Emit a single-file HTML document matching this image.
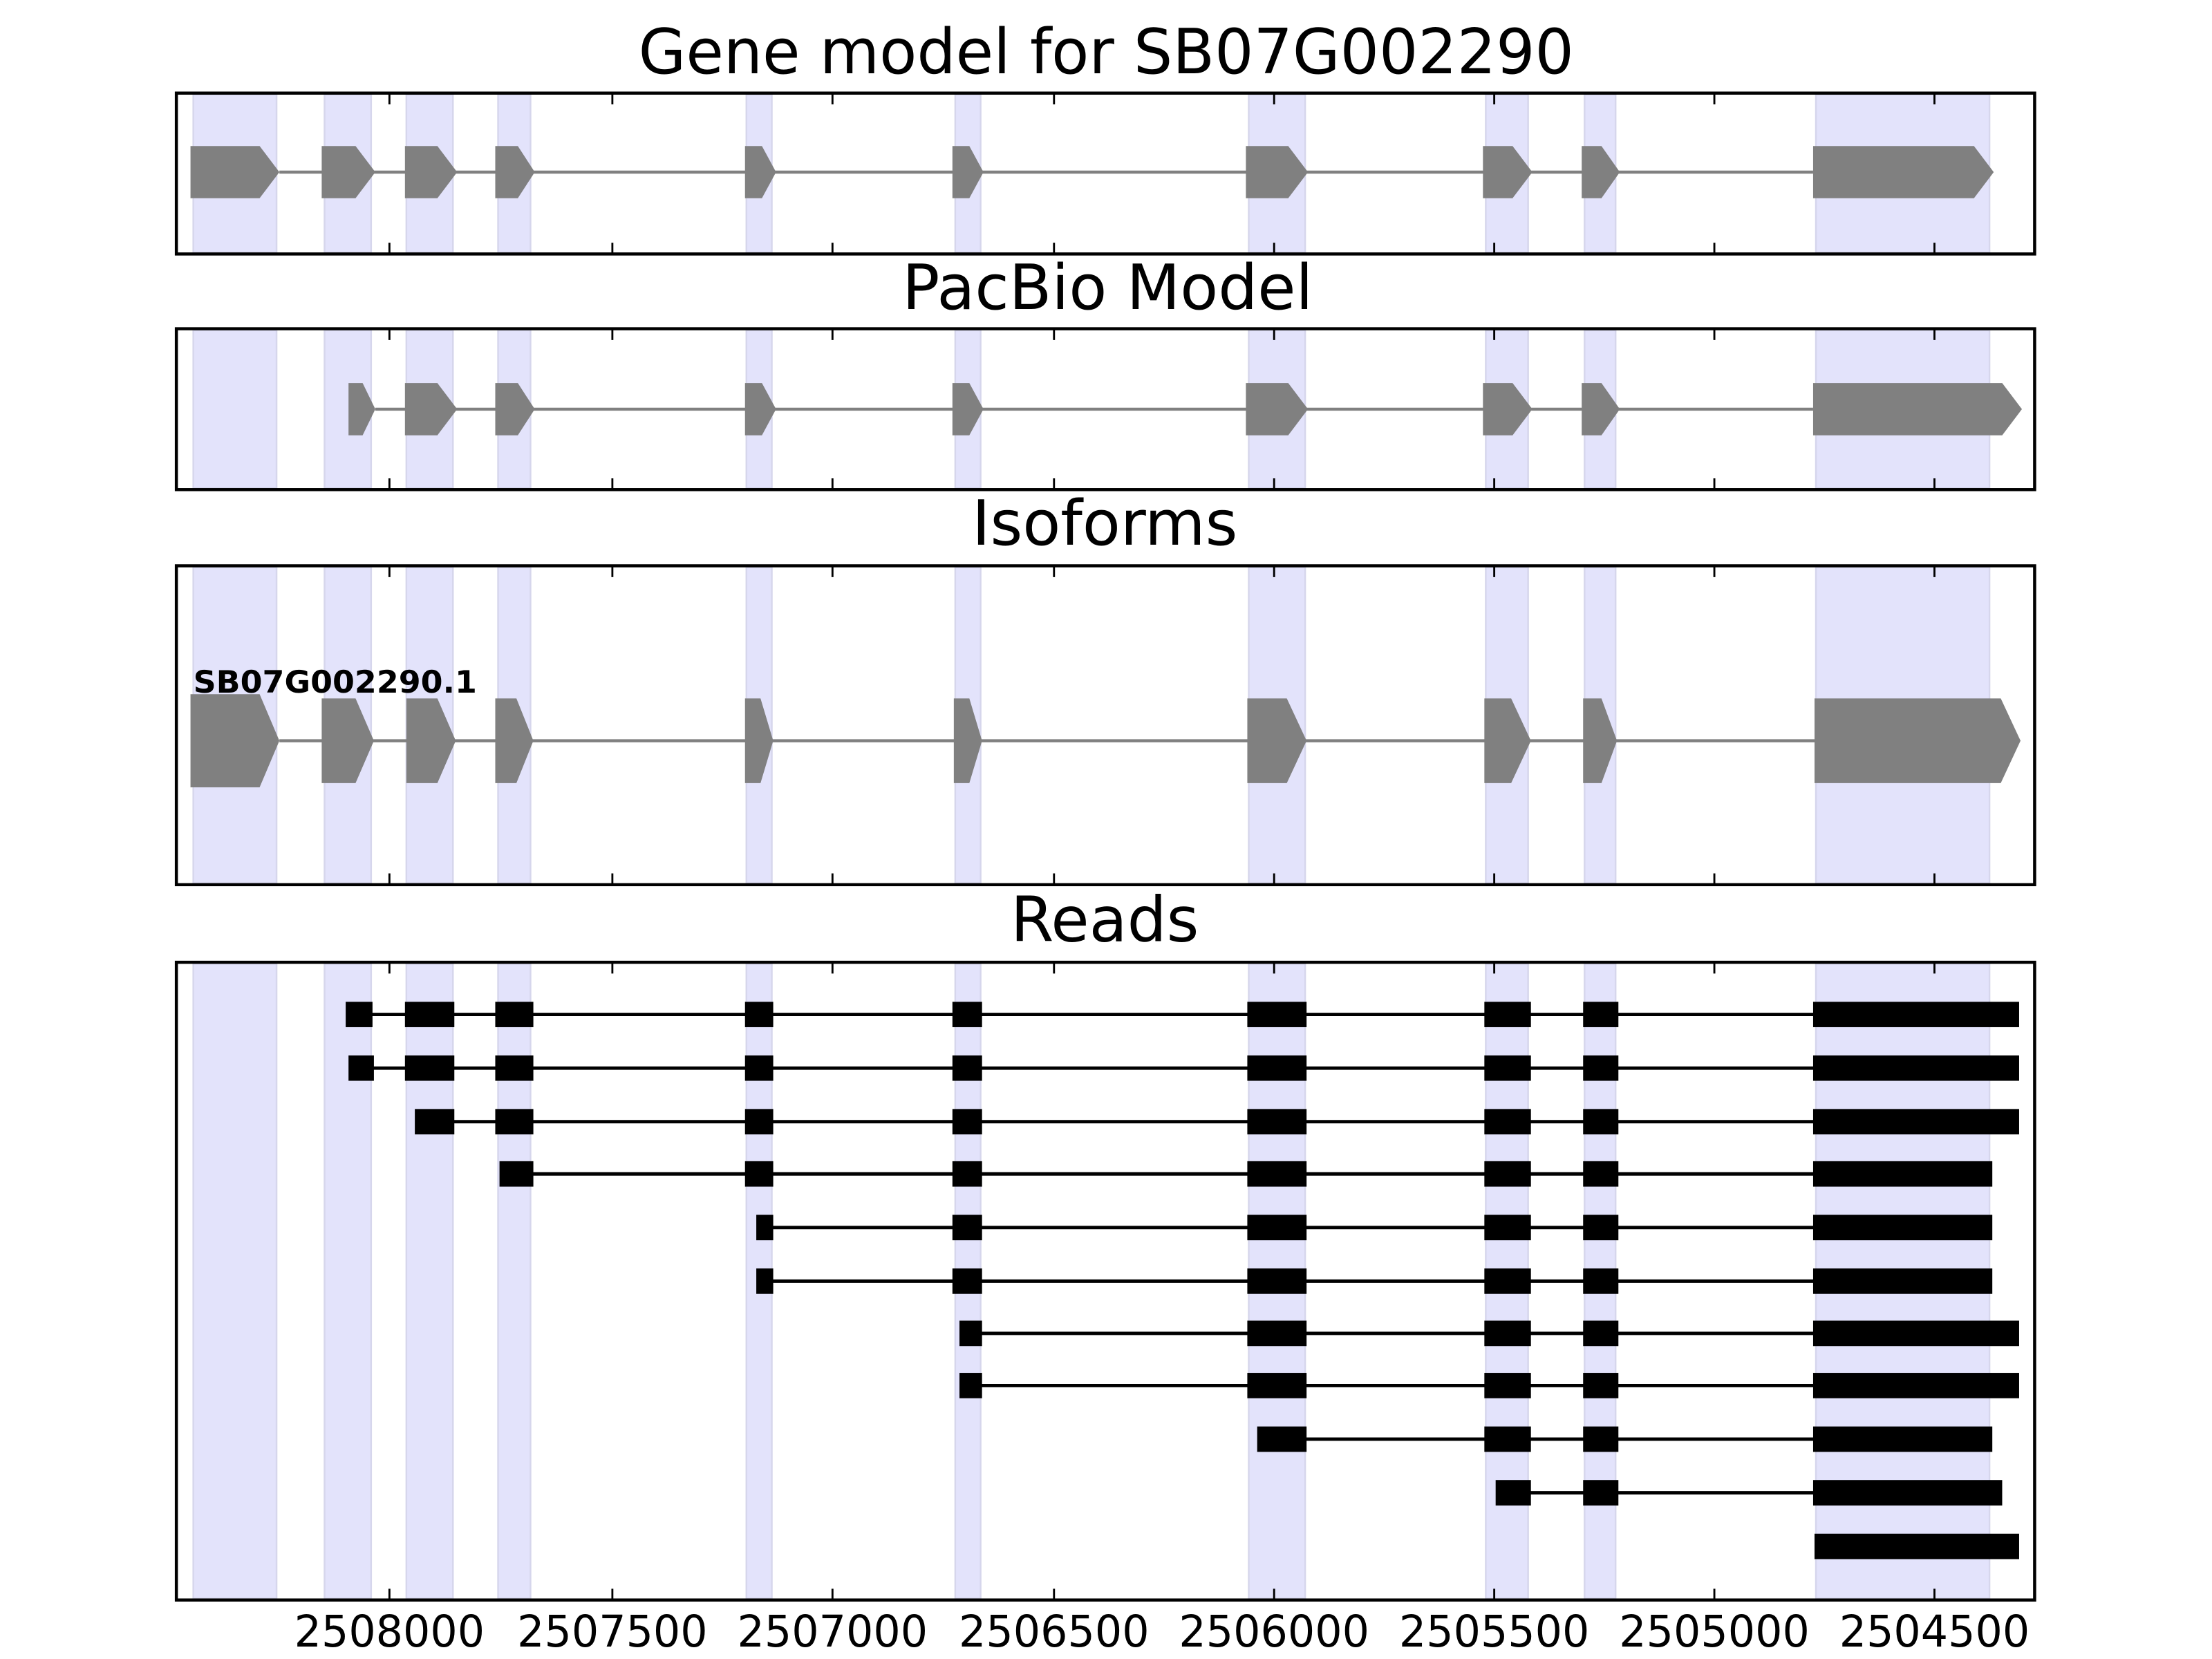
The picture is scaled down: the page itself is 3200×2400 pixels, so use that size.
<!DOCTYPE html>
<html><head><meta charset="utf-8"><style>html,body{margin:0;padding:0;background:#fff}svg{display:block}</style></head>
<body>
<svg width="3200" height="2400" viewBox="0 0 1567.7 1175.8" preserveAspectRatio="none" xmlns="http://www.w3.org/2000/svg" font-family="'DejaVu Sans','Liberation Sans',sans-serif">
<rect x="0" y="0" width="1567.7" height="1175.8" fill="#fff"/>

<!-- Titles -->
<g font-size="44" text-anchor="middle" fill="#000">
<text x="784" y="52" textLength="663" lengthAdjust="spacingAndGlyphs">Gene model for SB07G002290</text>
<text x="785" y="219">PacBio Model</text>
<text x="783" y="386">Isoforms</text>
<text x="783" y="667">Reads</text>
</g>

<!-- Panel 1 -->
<g fill="#e3e3fb" stroke="#d6d6ec" stroke-width="1.2">
<rect x="137" y="67" width="59" height="112"/><rect x="230" y="67" width="33" height="112"/><rect x="288" y="67" width="33" height="112"/><rect x="353" y="67" width="23" height="112"/><rect x="529" y="67" width="18" height="112"/><rect x="677" y="67" width="18" height="112"/><rect x="885" y="67" width="40" height="112"/><rect x="1053" y="67" width="30" height="112"/><rect x="1123" y="67" width="22" height="112"/><rect x="1287" y="67" width="123" height="112"/>
</g>
<line x1="198" y1="122" x2="1285" y2="122" stroke="#808080" stroke-width="2.2"/>
<g fill="#808080">
<polygon points="135,103.5 184,103.5 198,122 184,140.5 135,140.5"/>
<polygon points="228,103.5 252,103.5 266,122 252,140.5 228,140.5"/>
<polygon points="287,103.5 310,103.5 324,122 310,140.5 287,140.5"/>
<polygon points="351,103.5 367,103.5 379,122 367,140.5 351,140.5"/>
<polygon points="528,103.5 540,103.5 550,122 540,140.5 528,140.5"/>
<polygon points="675,103.5 687,103.5 697,122 687,140.5 675,140.5"/>
<polygon points="883,103.5 913,103.5 927,122 913,140.5 883,140.5"/>
<polygon points="1051,103.5 1072,103.5 1086,122 1072,140.5 1051,140.5"/>
<polygon points="1121,103.5 1135,103.5 1148,122 1135,140.5 1121,140.5"/>
<polygon points="1285,103.5 1399,103.5 1413,122 1399,140.5 1285,140.5"/>
</g>

<!-- Panel 2 -->
<g fill="#e3e3fb" stroke="#d6d6ec" stroke-width="1.2">
<rect x="137" y="234" width="59" height="112"/><rect x="230" y="234" width="33" height="112"/><rect x="288" y="234" width="33" height="112"/><rect x="353" y="234" width="23" height="112"/><rect x="529" y="234" width="18" height="112"/><rect x="677" y="234" width="18" height="112"/><rect x="885" y="234" width="40" height="112"/><rect x="1053" y="234" width="30" height="112"/><rect x="1123" y="234" width="22" height="112"/><rect x="1287" y="234" width="123" height="112"/>
</g>
<line x1="266" y1="290" x2="1285" y2="290" stroke="#808080" stroke-width="2.2"/>
<g fill="#808080">
<polygon points="247,271.5 257,271.5 266,290 257,308.5 247,308.5"/>
<polygon points="287,271.5 310,271.5 324,290 310,308.5 287,308.5"/>
<polygon points="351,271.5 367,271.5 379,290 367,308.5 351,308.5"/>
<polygon points="528,271.5 540,271.5 550,290 540,308.5 528,308.5"/>
<polygon points="675,271.5 687,271.5 697,290 687,308.5 675,308.5"/>
<polygon points="883,271.5 913,271.5 927,290 913,308.5 883,308.5"/>
<polygon points="1051,271.5 1072,271.5 1086,290 1072,308.5 1051,308.5"/>
<polygon points="1121,271.5 1135,271.5 1148,290 1135,308.5 1121,308.5"/>
<polygon points="1285,271.5 1419,271.5 1433,290 1419,308.5 1285,308.5"/>
</g>

<!-- Panel 3 -->
<g fill="#e3e3fb" stroke="#d6d6ec" stroke-width="1.2">
<rect x="137" y="402" width="59" height="224"/><rect x="230" y="402" width="33" height="224"/><rect x="288" y="402" width="33" height="224"/><rect x="353" y="402" width="23" height="224"/><rect x="529" y="402" width="18" height="224"/><rect x="677" y="402" width="18" height="224"/><rect x="885" y="402" width="40" height="224"/><rect x="1053" y="402" width="30" height="224"/><rect x="1123" y="402" width="22" height="224"/><rect x="1287" y="402" width="123" height="224"/>
</g>
<line x1="198" y1="525" x2="1286" y2="525" stroke="#808080" stroke-width="2.2"/>
<g fill="#808080">
<polygon points="135,492 184,492 198,525 184,558 135,558"/>
<polygon points="228,495 252,495 265,525 252,555 228,555"/>
<polygon points="288,495 310,495 323,525 310,555 288,555"/>
<polygon points="351,495 366,495 378,525 366,555 351,555"/>
<polygon points="528,495 539,495 548,525 539,555 528,555"/>
<polygon points="676,495 687,495 696,525 687,555 676,555"/>
<polygon points="884,495 912,495 926,525 912,555 884,555"/>
<polygon points="1052,495 1071,495 1085,525 1071,555 1052,555"/>
<polygon points="1122,495 1135,495 1146,525 1135,555 1122,555"/>
<polygon points="1286,495 1418,495 1432,525 1418,555 1286,555"/>
</g>
<text x="137" y="491" font-size="22" font-weight="bold" fill="#000" textLength="201" lengthAdjust="spacingAndGlyphs">SB07G002290.1</text>

<!-- Panel 4 -->
<g fill="#e3e3fb" stroke="#d6d6ec" stroke-width="1.2">
<rect x="137" y="683" width="59" height="450"/><rect x="230" y="683" width="33" height="450"/><rect x="288" y="683" width="33" height="450"/><rect x="353" y="683" width="23" height="450"/><rect x="529" y="683" width="18" height="450"/><rect x="677" y="683" width="18" height="450"/><rect x="885" y="683" width="40" height="450"/><rect x="1053" y="683" width="30" height="450"/><rect x="1123" y="683" width="22" height="450"/><rect x="1287" y="683" width="123" height="450"/>
</g>
<g stroke="#000" stroke-width="2.4">
<line x1="255" y1="719" x2="1300" y2="719"/>
<line x1="256" y1="757" x2="1300" y2="757"/>
<line x1="308" y1="795" x2="1300" y2="795"/>
<line x1="366" y1="832" x2="1300" y2="832"/>
<line x1="542" y1="870" x2="1300" y2="870"/>
<line x1="542" y1="908" x2="1300" y2="908"/>
<line x1="688" y1="945" x2="1300" y2="945"/>
<line x1="688" y1="982" x2="1300" y2="982"/>
<line x1="908" y1="1020" x2="1300" y2="1020"/>
<line x1="1072" y1="1058" x2="1300" y2="1058"/>
</g>
<g fill="#000">
<rect x="245" y="710" width="19" height="18"/><rect x="287" y="710" width="35" height="18"/><rect x="351" y="710" width="27" height="18"/><rect x="528" y="710" width="20" height="18"/><rect x="675" y="710" width="21" height="18"/><rect x="884" y="710" width="42" height="18"/><rect x="1052" y="710" width="33" height="18"/><rect x="1122" y="710" width="25" height="18"/><rect x="1285" y="710" width="146" height="18"/>
<rect x="247" y="748" width="18" height="18"/><rect x="287" y="748" width="35" height="18"/><rect x="351" y="748" width="27" height="18"/><rect x="528" y="748" width="20" height="18"/><rect x="675" y="748" width="21" height="18"/><rect x="884" y="748" width="42" height="18"/><rect x="1052" y="748" width="33" height="18"/><rect x="1122" y="748" width="25" height="18"/><rect x="1285" y="748" width="146" height="18"/>
<rect x="294" y="786" width="28" height="18"/><rect x="351" y="786" width="27" height="18"/><rect x="528" y="786" width="20" height="18"/><rect x="675" y="786" width="21" height="18"/><rect x="884" y="786" width="42" height="18"/><rect x="1052" y="786" width="33" height="18"/><rect x="1122" y="786" width="25" height="18"/><rect x="1285" y="786" width="146" height="18"/>
<rect x="354" y="823" width="24" height="18"/><rect x="528" y="823" width="20" height="18"/><rect x="675" y="823" width="21" height="18"/><rect x="884" y="823" width="42" height="18"/><rect x="1052" y="823" width="33" height="18"/><rect x="1122" y="823" width="25" height="18"/><rect x="1285" y="823" width="127" height="18"/>
<rect x="536" y="861" width="12" height="18"/><rect x="675" y="861" width="21" height="18"/><rect x="884" y="861" width="42" height="18"/><rect x="1052" y="861" width="33" height="18"/><rect x="1122" y="861" width="25" height="18"/><rect x="1285" y="861" width="127" height="18"/>
<rect x="536" y="899" width="12" height="18"/><rect x="675" y="899" width="21" height="18"/><rect x="884" y="899" width="42" height="18"/><rect x="1052" y="899" width="33" height="18"/><rect x="1122" y="899" width="25" height="18"/><rect x="1285" y="899" width="127" height="18"/>
<rect x="680" y="936" width="16" height="18"/><rect x="884" y="936" width="42" height="18"/><rect x="1052" y="936" width="33" height="18"/><rect x="1122" y="936" width="25" height="18"/><rect x="1285" y="936" width="146" height="18"/>
<rect x="680" y="973" width="16" height="18"/><rect x="884" y="973" width="42" height="18"/><rect x="1052" y="973" width="33" height="18"/><rect x="1122" y="973" width="25" height="18"/><rect x="1285" y="973" width="146" height="18"/>
<rect x="891" y="1011" width="35" height="18"/><rect x="1052" y="1011" width="33" height="18"/><rect x="1122" y="1011" width="25" height="18"/><rect x="1285" y="1011" width="127" height="18"/>
<rect x="1060" y="1049" width="25" height="18"/><rect x="1122" y="1049" width="25" height="18"/><rect x="1285" y="1049" width="134" height="18"/>
<rect x="1286" y="1087" width="145" height="18"/>
</g>

<!-- Axes frames and ticks -->
<g fill="none" stroke="#000" stroke-width="2.2">
<rect x="125" y="66" width="1317" height="114"/>
<rect x="125" y="233" width="1317" height="114"/>
<rect x="125" y="401" width="1317" height="226"/>
<rect x="125" y="682" width="1317" height="452"/>
</g>
<g stroke="#000" stroke-width="1.4">
<path d="M276,66v8M434,66v8M590,66v8M747,66v8M903,66v8M1059,66v8M1215,66v8M1371,66v8
M276,180v-8M434,180v-8M590,180v-8M747,180v-8M903,180v-8M1059,180v-8M1215,180v-8M1371,180v-8
M276,233v8M434,233v8M590,233v8M747,233v8M903,233v8M1059,233v8M1215,233v8M1371,233v8
M276,347v-8M434,347v-8M590,347v-8M747,347v-8M903,347v-8M1059,347v-8M1215,347v-8M1371,347v-8
M276,401v8M434,401v8M590,401v8M747,401v8M903,401v8M1059,401v8M1215,401v8M1371,401v8
M276,627v-8M434,627v-8M590,627v-8M747,627v-8M903,627v-8M1059,627v-8M1215,627v-8M1371,627v-8
M276,682v8M434,682v8M590,682v8M747,682v8M903,682v8M1059,682v8M1215,682v8M1371,682v8
M276,1134v-8M434,1134v-8M590,1134v-8M747,1134v-8M903,1134v-8M1059,1134v-8M1215,1134v-8M1371,1134v-8"/>
</g>
<g font-size="31" text-anchor="middle" fill="#000">
<text x="276" y="1167" textLength="135" lengthAdjust="spacingAndGlyphs">2508000</text>
<text x="434" y="1167" textLength="135" lengthAdjust="spacingAndGlyphs">2507500</text>
<text x="590" y="1167" textLength="135" lengthAdjust="spacingAndGlyphs">2507000</text>
<text x="747" y="1167" textLength="135" lengthAdjust="spacingAndGlyphs">2506500</text>
<text x="903" y="1167" textLength="135" lengthAdjust="spacingAndGlyphs">2506000</text>
<text x="1059" y="1167" textLength="135" lengthAdjust="spacingAndGlyphs">2505500</text>
<text x="1215" y="1167" textLength="135" lengthAdjust="spacingAndGlyphs">2505000</text>
<text x="1371" y="1167" textLength="135" lengthAdjust="spacingAndGlyphs">2504500</text>
</g>
</svg>
</body></html>
